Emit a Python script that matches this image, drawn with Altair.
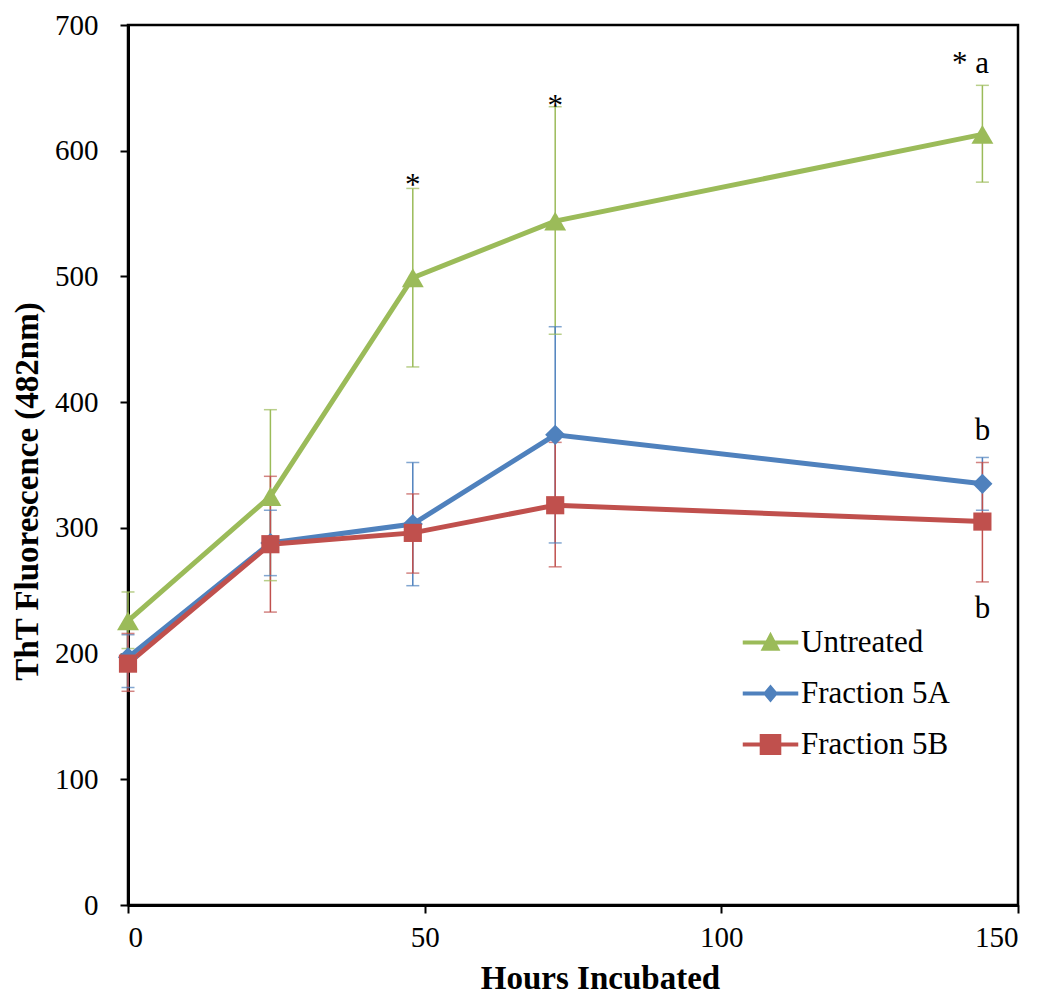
import altair as alt
import pandas as pd

hours = [0, 24, 48, 72, 144]
series_names = ["Untreated", "Fraction 5A", "Fraction 5B"]
colors = ["#9BBB59", "#4F81BD", "#C0504D"]

untreated = [226, 325, 499, 544, 613]
untreated_hi = [249, 394, 570, 635, 652]
untreated_lo = [204, 258, 428, 454, 575]

f5a = [197, 288, 303, 374, 335]
f5a_hi = [215, 314, 352, 460, 356]
f5a_lo = [173, 262, 254, 288, 314]

f5b = [192, 287, 296, 318, 305]
f5b_hi = [216, 341, 327, 368, 352]
f5b_lo = [170, 233, 264, 269, 257]

ann_x = [48, 72, 142, 144, 144]
ann_y = [565, 628, 662, 370, 228]
ann_text = ["*", "*", "* a", "b", "b"]

rows = []
for name, vals, his, los in [
    ("Untreated", untreated, untreated_hi, untreated_lo),
    ("Fraction 5A", f5a, f5a_hi, f5a_lo),
    ("Fraction 5B", f5b, f5b_hi, f5b_lo),
]:
    for h, v, hi, lo in zip(hours, vals, his, los):
        rows.append({"hours": h, "value": v, "hi": hi, "lo": lo, "series": name})
df = pd.DataFrame(rows)

caps = []
for r in rows:
    caps.append({"hours": r["hours"], "cap": r["hi"], "series": r["series"]})
    caps.append({"hours": r["hours"], "cap": r["lo"], "series": r["series"]})
caps_df = pd.DataFrame(caps)

ann_df = pd.DataFrame({"hours": ann_x, "value": ann_y, "text": ann_text})

FONT = "Liberation Serif"

x_enc = alt.X("hours:Q", scale=alt.Scale(domain=[0, 150], nice=False),
              axis=alt.Axis(values=[0, 50, 100, 150], title="Hours Incubated",
                            titleX=472, titleY=83, titleBaseline="alphabetic"))
y_enc = alt.Y("value:Q", scale=alt.Scale(domain=[0, 700], nice=False),
              axis=alt.Axis(values=list(range(0, 701, 100)),
                            title="ThT Fluorescence (482nm)", titleY=466))

def color_enc():
    return alt.Color("series:N", scale=alt.Scale(domain=series_names, range=colors),
                     legend=None)

err_rules = alt.Chart(df).mark_rule(strokeWidth=1.5).encode(
    x=x_enc, y=alt.Y("lo:Q"), y2="hi:Q", color=color_enc()
)
err_caps = alt.Chart(caps_df).mark_tick(orient="horizontal", size=13, thickness=1.5).encode(
    x=x_enc, y=alt.Y("cap:Q"), color=color_enc()
)
lines = alt.Chart(df).mark_line(strokeWidth=5).encode(
    x=x_enc, y=y_enc, color=color_enc(), detail="series:N"
)
points = alt.Chart(df).mark_point(filled=True, opacity=1, strokeWidth=0).encode(
    x=x_enc, y=y_enc, color=color_enc(),
    shape=alt.Shape("series:N", scale=alt.Scale(domain=series_names,
                                                range=["triangle-up", "diamond", "square"]),
                    legend=None),
    size=alt.Size("series:N", scale=alt.Scale(domain=series_names, range=[480, 330, 441]),
                  legend=None),
)

leg_paths = [
    "M-1.85,-0.14H1.85V0.14H-1.85Z M0,-0.72L0.66,0.55L-0.66,0.55Z",
    "M-1.85,-0.14H1.85V0.14H-1.85Z M0,-0.6L0.5,0L0,0.6L-0.5,0Z",
    "M-1.85,-0.14H1.85V0.14H-1.85Z M-0.72,-0.7H0.72V0.7H-0.72Z",
]

def leg():
    return alt.Legend(title=None, orient="none", legendX=627, legendY=602,
                      labelFont=FONT, labelFontSize=31, labelColor="black",
                      symbolSize=900, symbolStrokeWidth=0,
                      labelOffset=15, rowPadding=19, padding=0)

legend_layer = alt.Chart(df).mark_point(filled=True, opacity=1).encode(
    x=x_enc, y=y_enc,
    color=alt.Color("series:N", scale=alt.Scale(domain=series_names, range=colors),
                    legend=leg()),
    shape=alt.Shape("series:N", scale=alt.Scale(domain=series_names, range=leg_paths),
                    legend=leg()),
).transform_filter("datum.hours < -1")

annotations = alt.Chart(ann_df).mark_text(font=FONT, fontSize=31, color="black",
                                          baseline="alphabetic", align="center").encode(
    x=x_enc, y=y_enc, text="text:N"
)

chart = alt.layer(err_rules, err_caps, lines, points, annotations, legend_layer).resolve_scale(
    color="independent", shape="independent", size="independent"
).properties(
    width=890, height=880,
    autosize=alt.AutoSizeParams(type="none"),
    padding={"left": 120, "top": 17, "right": 20, "bottom": 92},
).configure_view(
    stroke="black", strokeWidth=2.5
).configure_axis(
    domainColor="black", domainWidth=3, tickColor="black", tickWidth=2, tickSize=8,
    grid=False, labelFont=FONT, labelFontSize=29, labelColor="black",
    titleFont=FONT, titleFontSize=33, titleFontWeight="bold", titleColor="black",
).configure_axisY(
    labelPadding=22, titlePadding=10
).configure_axisX(
    labelPadding=10
)

chart.save("out.html", embed_options={"renderer": "svg", "actions": False})
